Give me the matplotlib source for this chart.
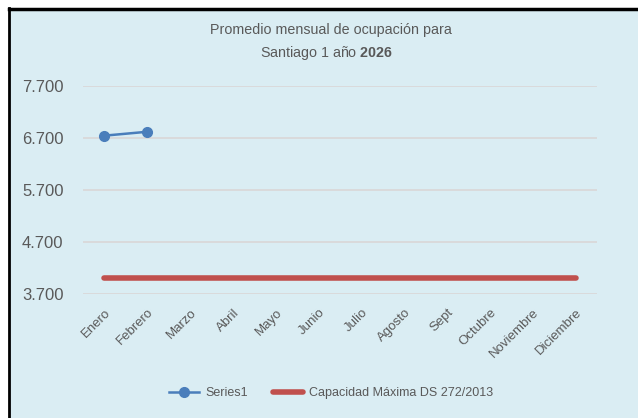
import matplotlib
matplotlib.use("Agg")
import matplotlib.pyplot as plt
from matplotlib.patches import Rectangle
from matplotlib.lines import Line2D

# datos del gráfico
meses = ["Enero", "Febrero", "Marzo", "Abril", "Mayo", "Junio", "Julio",
         "Agosto", "Sept", "Octubre", "Noviembre", "Diciembre"]
serie1 = [6745, 6820]            # solo enero y febrero
capacidad = [4000] * 12          # Capacidad Máxima DS 272/2013
yticks = [3700, 4700, 5700, 6700, 7700]
ytick_lbl = ["3.700", "4.700", "5.700", "6.700", "7.700"]

plt.rcParams['font.family'] = ['Liberation Sans', 'DejaVu Sans']
plt.rcParams['mathtext.fontset'] = 'custom'
plt.rcParams['mathtext.bf'] = 'Liberation Sans:bold'
plt.rcParams['mathtext.rm'] = 'Liberation Sans'

W, H = 638, 418
fig = plt.figure(figsize=(W / 100, H / 100), dpi=100, facecolor="white")

fondo = "#DAEDF3"
# marco de la captura: fondo celeste con borde negro arriba e izquierda
fig.patches.append(Rectangle((9 / W, 0), 1 - 9 / W, 1 - 9 / H, transform=fig.transFigure,
                             facecolor=fondo, edgecolor="none", zorder=-5))
fig.lines.append(Line2D([9 / W, 9 / W], [0, 1 - 8 / H], transform=fig.transFigure,
                        color="black", lw=2, zorder=-4))
fig.lines.append(Line2D([9 / W, 1], [1 - 9 / H, 1 - 9 / H], transform=fig.transFigure,
                        color="black", lw=2.5, zorder=-4))

ax = fig.add_axes([83 / W, (H - 294) / H, (597 - 83) / W, (294 - 86) / H])
ax.set_facecolor("none")

x = list(range(len(meses)))
ax.plot(x[:len(serie1)], serie1, color="#4A7EBB", lw=1.8, marker="o", ms=7,
        label="Series1", zorder=3)
ax.plot(x, capacidad, color="#C0504D", lw=4, solid_capstyle="round",
        label="Capacidad Máxima DS 272/2013", zorder=2)

ax.set_xlim(-0.5, len(meses) - 0.5)
ax.set_ylim(3700, 7700)
ax.set_yticks(yticks)
ax.set_yticklabels(ytick_lbl, fontsize=12, color="#595959")
ax.set_xticks(x)
ax.set_xticklabels(meses, rotation=45, ha="right", rotation_mode="anchor",
                   fontsize=9.5, color="#595959")
ax.tick_params(length=0, pad=9)
ax.tick_params(axis="y", pad=14)
ax.grid(axis="y", color="#D9D9D9", lw=1.3)
ax.set_axisbelow(True)
for s in ax.spines.values():
    s.set_visible(False)

fig.text(331 / W, 1 - 30 / H, "Promedio mensual de ocupación para",
         ha="center", va="center", fontsize=10.3, color="#595959")
fig.text(326 / W, 1 - 53 / H, "Santiago 1 año $\\mathbf{2026}$",
         ha="center", va="center", fontsize=10.3, color="#595959")

fig.legend(loc="center", bbox_to_anchor=(331 / W, 1 - 393 / H), ncol=2, frameon=False,
           fontsize=9, labelcolor="#595959", handlelength=2.4, handletextpad=0.5,
           columnspacing=2.0)

fig.savefig("out.png", dpi=100, facecolor=fig.get_facecolor())
